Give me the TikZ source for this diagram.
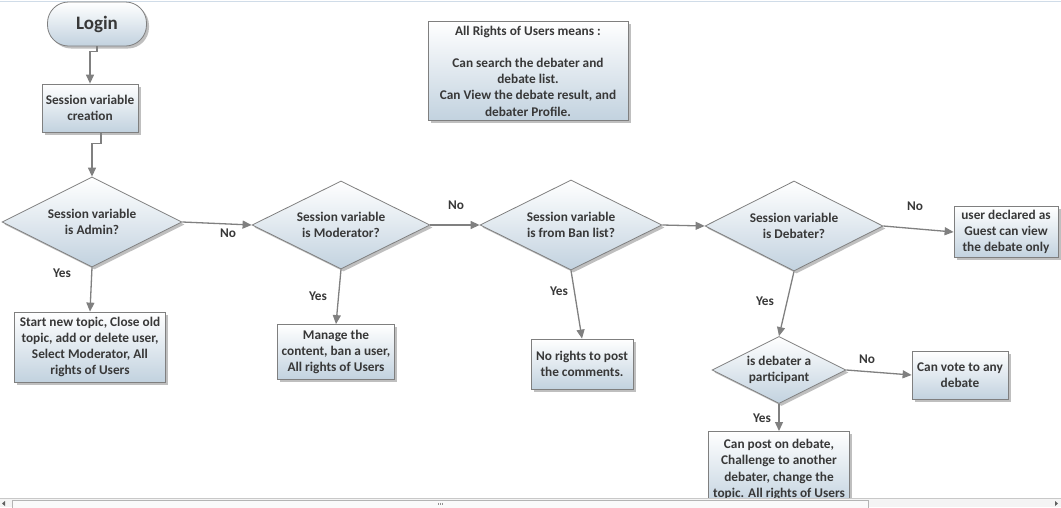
\documentclass[tikz,border=0pt]{standalone}
\usepackage{fontspec}
\setmainfont{Carlito}
\usetikzlibrary{shapes.geometric,arrows.meta,shadows}
\definecolor{edgec}{HTML}{7F7F7F}
\definecolor{fillbot}{HTML}{C2D2DF}
\definecolor{txt}{HTML}{383838}
\definecolor{arrc}{HTML}{808080}
\definecolor{topline}{HTML}{D0DCE8}
\definecolor{sbbg}{HTML}{F4F4F4}
\definecolor{sbline}{HTML}{C8C8C8}
\definecolor{sbthumb}{HTML}{B4B4B4}
\definecolor{sbfill}{HTML}{FAFAFA}
\definecolor{sbgrip}{HTML}{909090}
\definecolor{sbarrow}{HTML}{606060}
\tikzset{
  base/.style={draw=edgec, line width=0.8pt, top color=white, bottom color=fillbot,
    text=txt, font=\fontsize{13.3}{16.2}\selectfont\bfseries, align=center, inner sep=0pt,
    drop shadow={shadow xshift=2.5pt, shadow yshift=-2.5pt, opacity=0.45, fill=black!55}},
  procbox/.style={base, rectangle},
  decision/.style={base, diamond, shape aspect=2},
  termin/.style={base, rectangle, rounded corners=21pt},
  conn/.style={draw=arrc, line width=1.3pt, -{Triangle[length=9pt,width=8pt]}, color=arrc},
  lbl/.style={text=txt, font=\fontsize{13.3}{15}\selectfont\bfseries, inner sep=0pt}
}
\begin{document}
\begin{tikzpicture}[x=1pt,y=-1pt]
\useasboundingbox (0,0) rectangle (1061,507);
\fill[white] (0,0) rectangle (1061,507);
\draw[topline] (0,1.5) -- (1061,1.5);

% nodes
\node[termin, minimum width=99pt, minimum height=44pt, font=\fontsize{19}{20}\selectfont\bfseries] (login) at (97,24) {Login};
\node[procbox, minimum width=96pt, minimum height=48pt] (create) at (90,108) {Session variable\\creation};
\node[procbox, minimum width=200pt, minimum height=99pt] (note) at (528,71)
  {All Rights of Users means :\\\mbox{}\\Can search the debater and\\debate list.\\Can View the debate result, and\\debater Profile.};

\node[decision, minimum width=180pt, minimum height=90pt] (admin) at (92,222) {Session variable\\is Admin?};
\node[decision, minimum width=178pt, minimum height=88pt] (mod) at (341,225) {Session variable\\is Moderator?};
\node[decision, minimum width=182pt, minimum height=90pt] (ban) at (571,225) {Session variable\\is from Ban list?};
\node[decision, minimum width=178pt, minimum height=90pt] (deb) at (794,226) {Session variable\\is Debater?};
\node[procbox, minimum width=104pt, minimum height=51pt] (guest) at (1006,232) {user declared as\\Guest can view\\the debate only};

\node[procbox, minimum width=151pt, minimum height=70pt] (adminr) at (90,347) {Start new topic, Close old\\topic, add or delete user,\\Select Moderator, All\\rights of Users};
\node[procbox, minimum width=117pt, minimum height=55pt] (modr) at (336,352) {Manage the\\content, ban a user,\\All rights of Users};
\node[procbox, minimum width=102pt, minimum height=50pt] (banr) at (582,364) {No rights to post\\the comments.};
\node[decision, minimum width=134pt, minimum height=67pt] (part) at (779,370) {is debater a\\participant};
\node[procbox, minimum width=96pt, minimum height=48pt] (vote) at (960,375) {Can vote to any\\debate};
\node[procbox, minimum width=141pt, minimum height=76pt, anchor=north] (post) at (779,431) {Can post on debate,\\Challenge to another\\debater, change the\\topic. All rights of Users};

% connectors
\draw[conn] (login.south) -- ++(0,5) -| (create.north);
\draw[conn] ([xshift=11pt]create.south) -- ++(0,11) -| (admin.north);
\draw[conn] (admin.east) -- (mod.west);
\draw[conn] (mod.east) -- (ban.west);
\draw[conn] (ban.east) -- (deb.west);
\draw[conn] (deb.east) -- (guest.west);
\draw[conn] (admin.south) -- (adminr.north);
\draw[conn] (mod.south) -- (modr.north);
\draw[conn] (ban.south) -- (banr.north);
\draw[conn] (deb.south) -- (part.north);
\draw[conn] (part.east) -- (vote.west);
\draw[conn] (part.south) -- (post.north);

% labels
\node[lbl] (l1) at (228,233) {No};
\node[lbl] (l2) at (456,205) {No};
\node[lbl] (l3) at (915,206) {No};
\node[lbl] (l4) at (62,273) {Yes};
\node[lbl] (l5) at (318,296) {Yes};
\node[lbl] (l6) at (559,291) {Yes};
\node[lbl] (l7) at (765,301) {Yes};
\node[lbl] (l8) at (867,359) {No};
\node[lbl] (l9) at (762,418) {Yes};

% scrollbar
\fill[sbbg] (0,498) rectangle (1061,507);
\draw[sbline] (0,498) -- (1061,498);
\draw[sbthumb, fill=sbfill] (12,500) rectangle (868,508);
\foreach \gx in {438,440,442} \draw[sbgrip] (\gx,502.5) -- (\gx,505);
\fill[sbarrow] (5,501) -- (2,503.5) -- (5,506) -- cycle;
\fill[sbarrow] (1055,501) -- (1058,503.5) -- (1055,506) -- cycle;
\end{tikzpicture}
\end{document}
